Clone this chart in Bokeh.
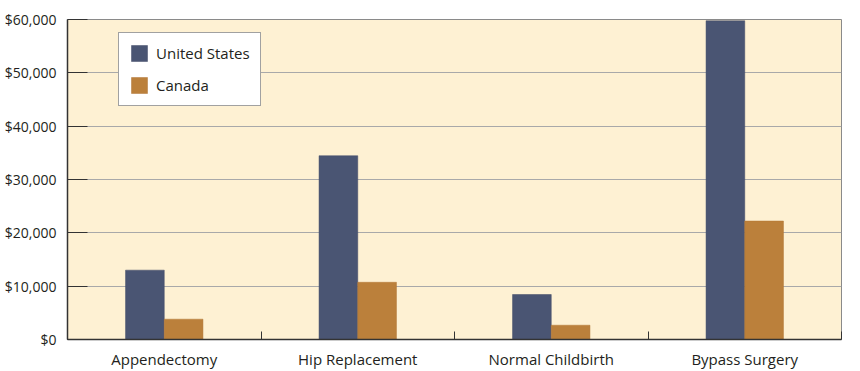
from bokeh.plotting import figure
from bokeh.models import (ColumnDataSource, FixedTicker, NumeralTickFormatter, Range1d,
                          Legend, LegendItem)
from bokeh.transform import dodge
from bokeh.embed import file_html
from bokeh.resources import INLINE

procedures = ["Appendectomy", "Hip Replacement", "Normal Childbirth", "Bypass Surgery"]
united_states = [13003, 34454, 8435, 59770]
canada = [3810, 10728, 2679, 22212]
y_ticks = [0, 10000, 20000, 30000, 40000, 50000, 60000]

FONT = "Open Sans"
TEXT = "#231f20"

pos = [i + 0.5 for i in range(len(procedures))]
src = ColumnDataSource(dict(x=pos, us=united_states, ca=canada))

p = figure(width=860, height=371, output_backend="svg", toolbar_location=None,
           x_range=Range1d(0, len(procedures)), y_range=Range1d(0, 60000),
           min_border_left=67, min_border_right=19, min_border_top=19, min_border_bottom=32)

p.background_fill_color = "#fef1d3"
p.border_fill_color = "white"
p.outline_line_color = "#8a8a8a"
p.outline_line_width = 1

r_us = p.vbar(x=dodge("x", -0.1), top="us", width=0.2, bottom=0, source=src,
              fill_color="#4a5573", line_color="#404a66", line_width=0.5)
r_ca = p.vbar(x=dodge("x", 0.1), top="ca", width=0.2, bottom=0, source=src,
              fill_color="#bb803b", line_color="#b07535", line_width=0.5)

# X axis
xa = p.xaxis[0]
xa.ticker = FixedTicker(ticks=pos, minor_ticks=list(range(len(procedures) + 1)))
xa.major_label_overrides = {v: lab for v, lab in zip(pos, procedures)}
xa.major_tick_line_color = None
xa.major_tick_in = 0
xa.major_tick_out = 0
xa.minor_tick_in = 8
xa.minor_tick_out = 0
xa.minor_tick_line_color = "#333333"
xa.axis_line_color = "#333333"
xa.axis_line_width = 1.5
xa.major_label_text_font = FONT
xa.major_label_text_font_size = "15px"
xa.major_label_text_color = TEXT
xa.major_label_standoff = 9

# Y axis
ya = p.yaxis[0]
ya.ticker = FixedTicker(ticks=y_ticks)
ya.formatter = NumeralTickFormatter(format="$0,0")
ya.major_tick_in = 20
ya.major_tick_out = 0
ya.major_tick_line_color = "#333333"
ya.minor_tick_line_color = None
ya.minor_tick_out = 0
ya.axis_line_color = "#333333"
ya.axis_line_width = 1.5
ya.major_label_text_font = FONT
ya.major_label_text_font_size = "14px"
ya.major_label_text_color = TEXT
ya.major_label_standoff = 11

p.xgrid.grid_line_color = None
p.ygrid.ticker = FixedTicker(ticks=y_ticks)
p.ygrid.grid_line_color = "#a9a9a9"
p.ygrid.grid_line_width = 1

legend = Legend(items=[LegendItem(label="United States", renderers=[r_us]),
                       LegendItem(label="Canada", renderers=[r_ca])],
                location=(51, 233))
legend.glyph_width = 20
legend.glyph_height = 20
legend.label_height = 20
legend.spacing = 12
legend.padding = 10
legend.margin = 0
legend.label_standoff = 7
legend.label_text_font = FONT
legend.label_text_font_size = "15px"
legend.label_text_color = TEXT
legend.border_line_color = "#444444"
legend.border_line_width = 1
legend.background_fill_color = "white"
legend.background_fill_alpha = 1
p.add_layout(legend)

open("out.html", "w").write(file_html(p, INLINE))
